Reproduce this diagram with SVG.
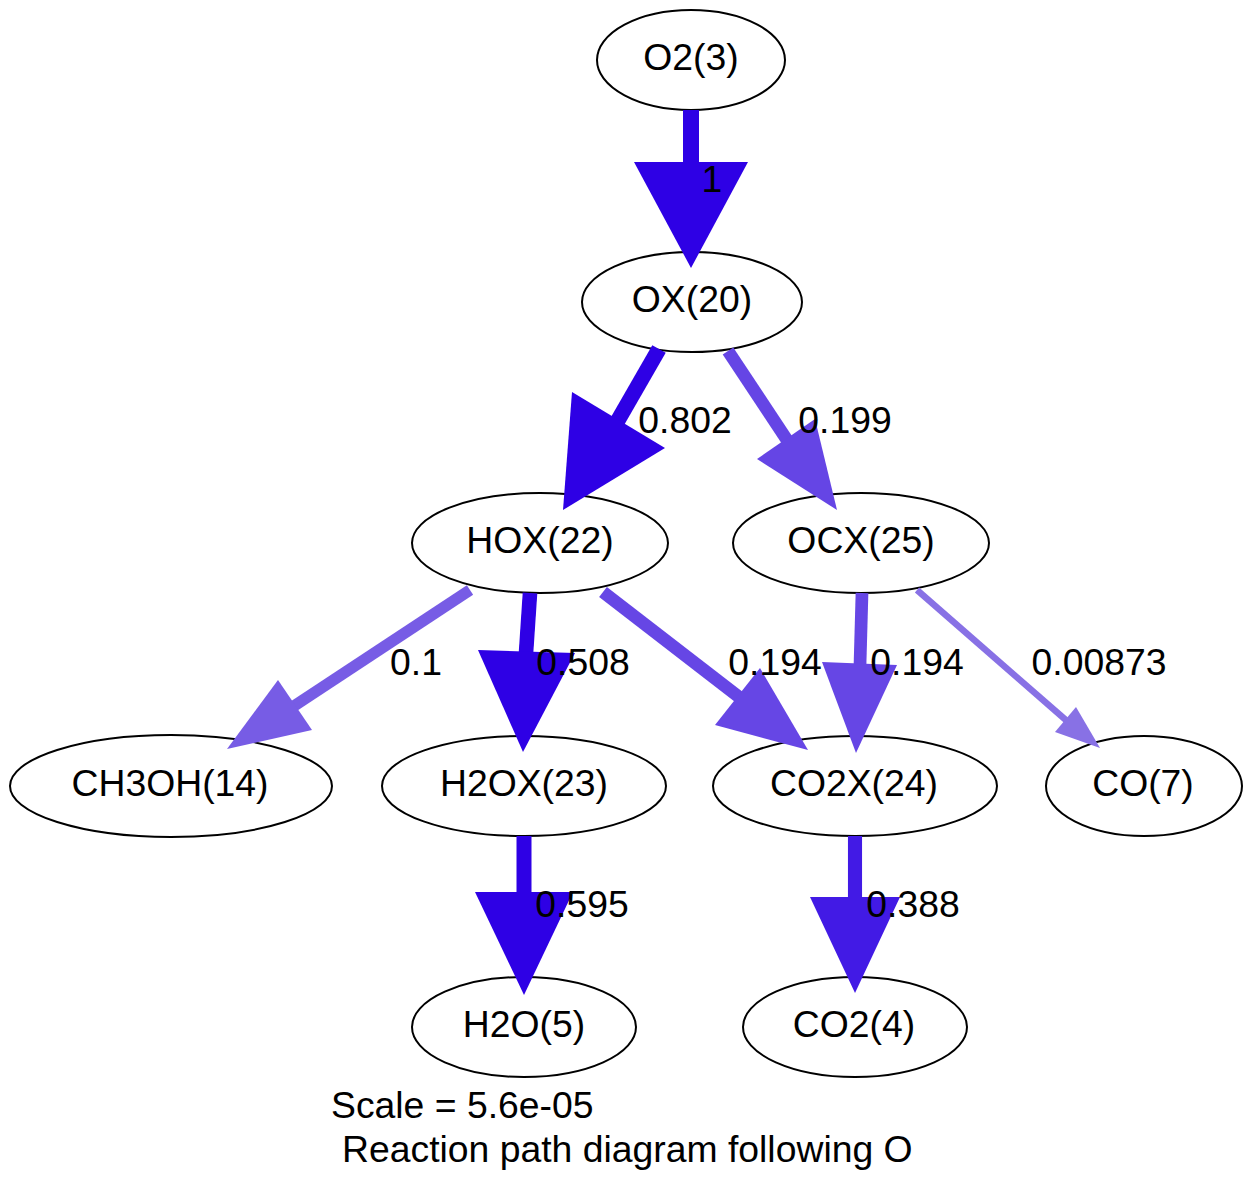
<svg xmlns="http://www.w3.org/2000/svg" width="1253" height="1194" viewBox="0 0 1253 1194">
  <style>
    .node ellipse { fill: none; stroke: #000; stroke-width: 2; }
    .node text, .elabel, .glabel { font-family: "Liberation Sans", Arial, Helvetica, sans-serif; font-size: 37.33px; fill: #000; }
    .node text, .elabel { text-anchor: middle; }
    .glabel { text-anchor: start; }
    .edge path { fill: none; stroke-linecap: butt; }
    /* edge colours: hue 0.7, saturation rising with flux */
    .f100 path { stroke: #2E00E5; } .f100 polygon { fill: #2E00E5; }
    .f388 path { stroke: #421AE5; } .f388 polygon { fill: #421AE5; }
    .f199 path { stroke: #6545E5; } .f199 polygon { fill: #6545E5; }
    .f194 path { stroke: #6646E5; } .f194 polygon { fill: #6646E5; }
    .f010 path { stroke: #775CE5; } .f010 polygon { fill: #775CE5; }
    .f009 path { stroke: #8871E5; } .f009 polygon { fill: #8871E5; }
  </style>

  <rect width="1253" height="1194" fill="#fff"/>

  <!-- species nodes -->
  <g id="node-O2_3" class="node"><ellipse cx="691" cy="60" rx="94" ry="50"/><text x="691" y="70">O2(3)</text></g>
  <g id="node-OX_20" class="node"><ellipse cx="692" cy="302" rx="110" ry="50"/><text x="692" y="312">OX(20)</text></g>
  <g id="node-HOX_22" class="node"><ellipse cx="540" cy="543" rx="128" ry="50"/><text x="540" y="553">HOX(22)</text></g>
  <g id="node-OCX_25" class="node"><ellipse cx="861" cy="543" rx="128" ry="50"/><text x="861" y="553">OCX(25)</text></g>
  <g id="node-CH3OH_14" class="node"><ellipse cx="171" cy="786" rx="161" ry="51"/><text x="170" y="796">CH3OH(14)</text></g>
  <g id="node-H2OX_23" class="node"><ellipse cx="524" cy="786" rx="142" ry="50"/><text x="524" y="796">H2OX(23)</text></g>
  <g id="node-CO2X_24" class="node"><ellipse cx="855" cy="786" rx="142" ry="50"/><text x="854" y="796">CO2X(24)</text></g>
  <g id="node-CO_7" class="node"><ellipse cx="1144" cy="786" rx="98" ry="50"/><text x="1143" y="796">CO(7)</text></g>
  <g id="node-H2O_5" class="node"><ellipse cx="524" cy="1027" rx="112" ry="50"/><text x="524" y="1037">H2O(5)</text></g>
  <g id="node-CO2_4" class="node"><ellipse cx="855" cy="1027" rx="112" ry="50"/><text x="854" y="1037">CO2(4)</text></g>

  <!-- reaction path connectors -->
  <g id="connectors">
    <g id="edge-O2_OX" class="edge f100"><path d="M691,110 L691,163" stroke-width="16"/><polygon points="634,162 748,162 691,268"/></g>
    <g id="edge-OX_HOX" class="edge f100"><path d="M659,349 L617,422" stroke-width="15.5"/><polygon points="572,392 665,448 563,510"/></g>
    <g id="edge-OX_OCX" class="edge f199"><path d="M728,351 L787,440" stroke-width="12.7"/><polygon points="757,459 815,419 837,510"/></g>
    <g id="edge-HOX_CH3OH" class="edge f010"><path d="M470,590 L294,706" stroke-width="11.4"/><polygon points="278,680 312,730 227,749"/></g>
    <g id="edge-HOX_H2OX" class="edge f100"><path d="M530,593 L526,653" stroke-width="14.6"/><polygon points="478,650 575,653 523,752"/></g>
    <g id="edge-HOX_CO2X" class="edge f194"><path d="M603,592 L739,697" stroke-width="12.7"/><polygon points="715,725 760,668 808,750"/></g>
    <g id="edge-OCX_CO2X" class="edge f194"><path d="M862,593 L860,665" stroke-width="12.7"/><polygon points="822,662 897,665 856,753"/></g>
    <g id="edge-OCX_CO" class="edge f009"><path d="M917,590 L1067,721" stroke-width="6.45"/><polygon points="1055,732 1076,707 1100,748"/></g>
    <g id="edge-H2OX_H2O" class="edge f100"><path d="M524,836 L524,893" stroke-width="15"/><polygon points="475,892 573,892 524,995"/></g>
    <g id="edge-CO2X_CO2" class="edge f388"><path d="M855,836 L855,898" stroke-width="14.1"/><polygon points="810,897 900,897 855,993"/></g>

    <!-- flux labels -->
    <g id="edge-labels">
      <text class="elabel" x="712" y="192">1</text>
      <text class="elabel" x="685" y="433">0.802</text>
      <text class="elabel" x="845" y="433">0.199</text>
      <text class="elabel" x="416" y="675">0.1</text>
      <text class="elabel" x="583" y="675">0.508</text>
      <text class="elabel" x="775" y="675">0.194</text>
      <text class="elabel" x="917" y="675">0.194</text>
      <text class="elabel" x="1099" y="675">0.00873</text>
      <text class="elabel" x="582" y="917">0.595</text>
      <text class="elabel" x="913" y="917">0.388</text>
    </g>
  </g>

  <!-- graph caption -->
  <text class="glabel" x="331" y="1118">Scale = 5.6e-05</text>
  <text class="glabel" x="342" y="1162">Reaction path diagram following O</text>
</svg>
